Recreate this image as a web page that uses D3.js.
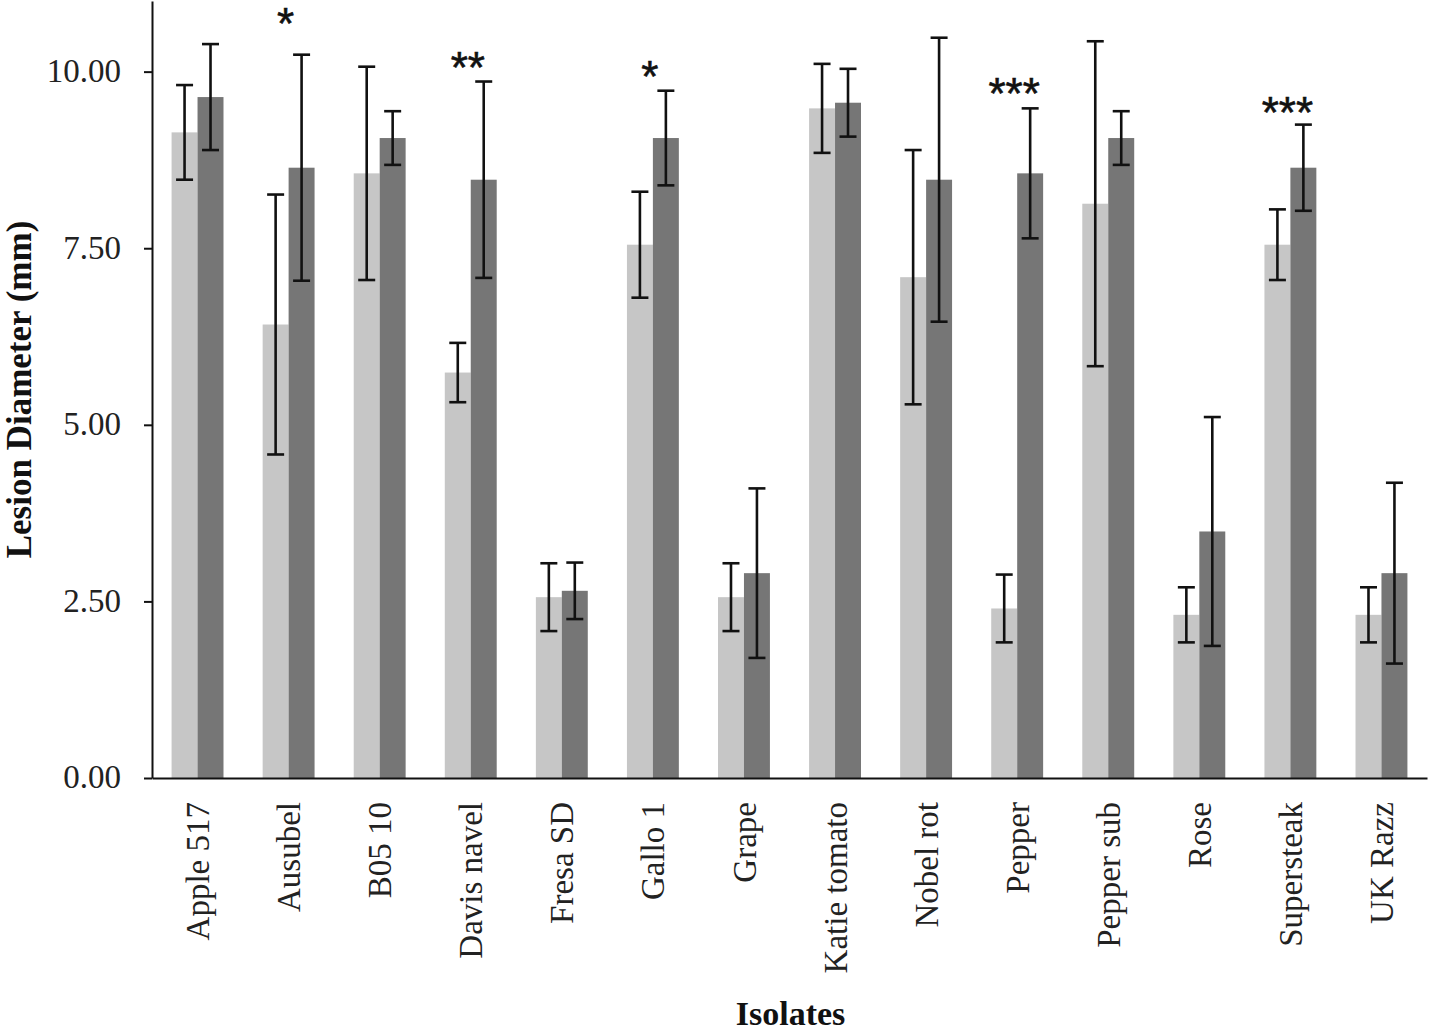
<!DOCTYPE html>
<html>
<head>
<meta charset="utf-8">
<script src="https://cdn.jsdelivr.net/npm/d3@7"></script>
<style>
  html, body { margin: 0; padding: 0; background: #fff; }
  svg { display: block; }
</style>
</head>
<body>
<svg id="chart" width="1432" height="1032"></svg>
<script>
// ---- Data ----
const categories = ["Apple 517", "Ausubel", "B05 10", "Davis navel", "Fresa SD", "Gallo 1", "Grape",
  "Katie tomato", "Nobel rot", "Pepper", "Pepper sub", "Rose", "Supersteak", "UK Razz"];
const seriesNames = ["light", "dark"];
const lightMeans = [9.14, 6.42, 8.56, 5.74, 2.56, 7.55, 2.56, 9.48, 7.09, 2.40, 8.13, 2.31, 7.55, 2.31];
const lightErrors = [0.67, 1.84, 1.51, 0.42, 0.48, 0.75, 0.48, 0.63, 1.80, 0.48, 2.30, 0.39, 0.50, 0.39];
const darkMeans = [9.64, 8.64, 9.06, 8.47, 2.65, 9.06, 2.90, 9.56, 8.47, 8.56, 9.06, 3.49, 8.64, 2.90];
const darkErrors = [0.75, 1.60, 0.38, 1.39, 0.40, 0.67, 1.20, 0.48, 2.01, 0.92, 0.38, 1.62, 0.61, 1.28];
const sigMarks = ["", "*", "", "**", "", "*", "", "", "", "***", "", "", "***", ""];
const sigLevels = [0, 10.81, 0, 10.18, 0, 10.05, 0, 0, 0, 9.81, 0, 0, 9.55, 0];
const yTicks = [0, 2.5, 5, 7.5, 10];
const yTitle = "Lesion Diameter (mm)";
const xTitle = "Isolates";

(function () {
// ---- Layout ----
const svg = d3.select("#chart");
const mLeft = 152, mRight = 1427, mTop = 1, mBottom = 778;
const serif = "'Liberation Serif', 'Times New Roman', serif";
const colors = { light: "#c6c6c6", dark: "#767676" };

const x0 = d3.scaleBand().domain(categories).range([mLeft, mRight])
  .paddingInner(0.43).paddingOuter(0.215);
const x1 = d3.scaleBand().domain(seriesNames).range([0, x0.bandwidth()]).padding(0);
const y = d3.scaleLinear().domain([0, 11]).range([mBottom, mTop]);

const rows = categories.map((c, i) => ({
  cat: c,
  vals: [
    { key: "light", mean: lightMeans[i], err: lightErrors[i] },
    { key: "dark", mean: darkMeans[i], err: darkErrors[i] }
  ],
  sig: sigMarks[i],
  sigLevel: sigLevels[i]
}));

// Bars
const groups = svg.append("g").selectAll("g").data(rows).join("g")
  .attr("transform", d => `translate(${x0(d.cat)},0)`);

groups.selectAll("rect").data(d => d.vals).join("rect")
  .attr("x", d => x1(d.key))
  .attr("width", x1.bandwidth())
  .attr("y", d => y(d.mean))
  .attr("height", d => y(0) - y(d.mean))
  .attr("fill", d => colors[d.key]);

// Error bars
const capW = 17;
const cx = d => x1(d.key) + x1.bandwidth() / 2;
const eb = groups.selectAll("g.eb").data(d => d.vals).join("g").attr("class", "eb")
  .attr("stroke", "#111").attr("stroke-width", 2.6);
eb.append("line")
  .attr("x1", cx).attr("x2", cx)
  .attr("y1", d => y(d.mean + d.err))
  .attr("y2", d => y(d.mean - d.err));
eb.append("line")
  .attr("x1", d => cx(d) - capW / 2).attr("x2", d => cx(d) + capW / 2)
  .attr("y1", d => y(d.mean + d.err)).attr("y2", d => y(d.mean + d.err));
eb.append("line")
  .attr("x1", d => cx(d) - capW / 2).attr("x2", d => cx(d) + capW / 2)
  .attr("y1", d => y(d.mean - d.err)).attr("y2", d => y(d.mean - d.err));

// Significance marks
svg.append("g").selectAll("text").data(rows.filter(d => d.sig)).join("text")
  .attr("x", d => x0(d.cat) + x0.bandwidth() / 2 - 3)
  .attr("y", d => y(d.sigLevel))
  .attr("dy", "0.55em")
  .attr("text-anchor", "middle")
  .attr("font-family", "'Liberation Sans', Arial, sans-serif")
  .attr("font-size", 44)
  .attr("fill", "#111")
  .attr("stroke", "#111").attr("stroke-width", 0.6)
  .text(d => d.sig);

// Y axis
const yAxis = svg.append("g").attr("transform", `translate(${mLeft},0)`)
  .call(d3.axisLeft(y).tickValues(yTicks).tickFormat(d3.format(".2f"))
    .tickSize(8).tickSizeOuter(0).tickPadding(23));
yAxis.select(".domain").attr("stroke", "#111").attr("stroke-width", 2);
yAxis.selectAll(".tick line").attr("stroke", "#111").attr("stroke-width", 2);
yAxis.selectAll(".tick text").attr("font-family", serif).attr("font-size", 33)
  .attr("fill", "#222").attr("dy", "0.3em");

// X axis
const xAxis = svg.append("g").attr("transform", `translate(0,${mBottom})`)
  .call(d3.axisBottom(x0).tickSize(0).tickSizeOuter(0));
xAxis.select(".domain").attr("stroke", "#111").attr("stroke-width", 2.2);
xAxis.selectAll(".tick text")
  .attr("font-family", serif).attr("font-size", 33).attr("fill", "#222")
  .attr("transform", "rotate(-90)")
  .attr("text-anchor", "end")
  .attr("x", -24).attr("y", 0).attr("dy", "0.35em");

// Titles
svg.append("text")
  .attr("transform", `translate(31,${(mTop + mBottom) / 2}) rotate(-90)`)
  .attr("text-anchor", "middle")
  .attr("font-family", serif).attr("font-weight", "bold").attr("font-size", 35)
  .attr("fill", "#111")
  .text(yTitle);
svg.append("text")
  .attr("x", (mLeft + mRight) / 2 + 1).attr("y", 1025)
  .attr("text-anchor", "middle")
  .attr("font-family", serif).attr("font-weight", "bold").attr("font-size", 34)
  .attr("fill", "#111")
  .text(xTitle);
})();
</script>
</body>
</html>
